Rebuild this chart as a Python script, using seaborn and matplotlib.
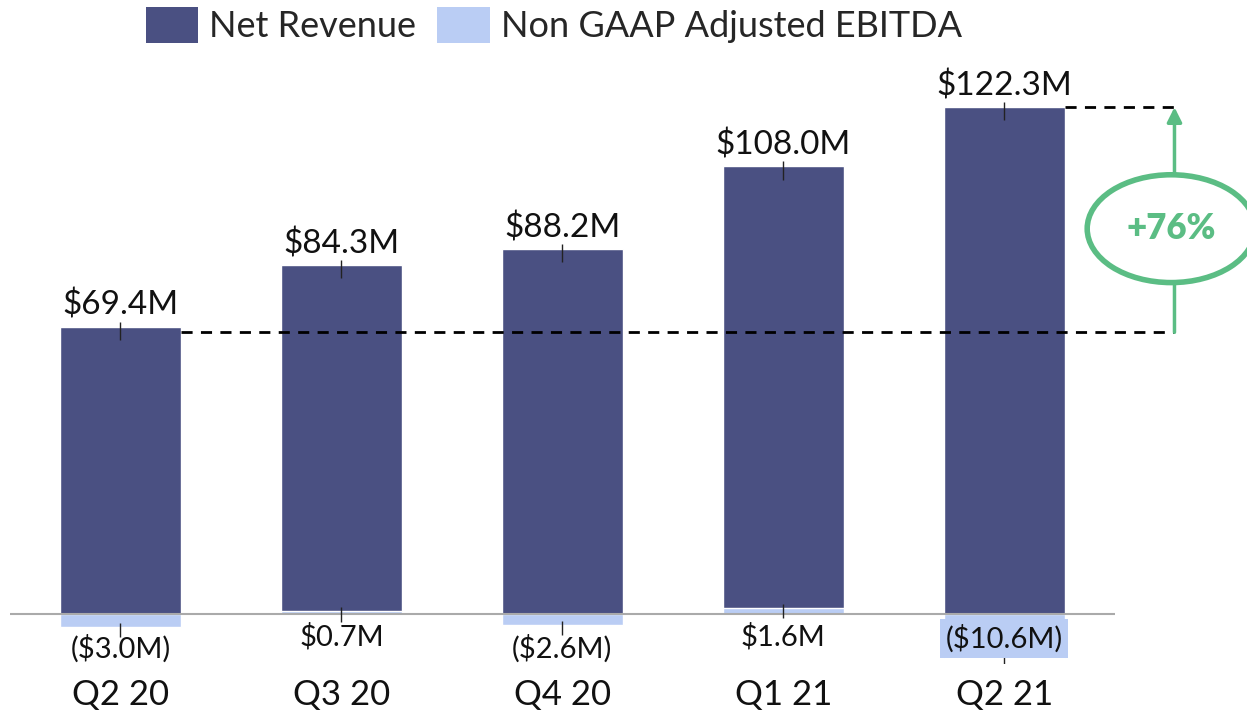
import matplotlib
matplotlib.use("Agg")
import matplotlib.pyplot as plt
from matplotlib.patches import Patch, Ellipse
import seaborn as sns
import pandas as pd

quarters = ["Q2 20", "Q3 20", "Q4 20", "Q1 21", "Q2 21"]
net_revenue = [69.4, 84.3, 88.2, 108.0, 122.3]
adj_ebitda = [-3.0, 0.7, -2.6, 1.6, -10.6]
growth_label = "+76%"

DARK = "#4a5082"
LIGHT = "#bacdf4"
GREEN = "#5bbd84"

sns.set_theme(style="white")
plt.rcParams["font.family"] = ["Lato", "DejaVu Sans"]

df = pd.DataFrame({"quarter": quarters, "revenue": net_revenue, "ebitda": adj_ebitda})

fig = plt.figure(figsize=(12.47, 7.11), dpi=100)
ax = fig.add_axes([0.008, 0.066, 0.886, 0.855])

sns.barplot(data=df, x="quarter", y="revenue", color=DARK, width=0.55,
            saturation=1, ax=ax, zorder=2)
sns.barplot(data=df, x="quarter", y="ebitda", color=LIGHT, width=0.55,
            saturation=1, ax=ax, zorder=3)

ax.set_xlim(-0.5, 4.5)
ax.set_ylim(-12, 134.6)
for s in ax.spines.values():
    s.set_visible(False)
ax.set_yticks([])
ax.set_xlabel("")
ax.set_ylabel("")
ax.axhline(0, color="#aaaaaa", lw=1.5, zorder=4)
ax.tick_params(axis="x", length=0, pad=11, labelsize=25, labelcolor="#111111")

xs = list(range(len(quarters)))
# small tick marks at bar ends
ax.errorbar(xs, net_revenue, yerr=[[3.2] * 5, [1.2] * 5], fmt="none",
            ecolor="#222222", elinewidth=1, zorder=5)
ax.errorbar(xs, adj_ebitda, yerr=[[2.5] * 5, [1.0] * 5], fmt="none",
            ecolor="#222222", elinewidth=1, zorder=5)

for x, v in zip(xs, net_revenue):
    ax.annotate(f"${v:.1f}M", (x, v), xytext=(0, 4), textcoords="offset points",
                ha="center", va="bottom", fontsize=24, color="#111111")

for x, v in zip(xs, adj_ebitda):
    txt = f"${v:.1f}M" if v >= 0 else f"(${abs(v):.1f}M)"
    box = None
    if v < -8:
        y = -5.8
        box = dict(boxstyle="square,pad=0.18", facecolor=LIGHT, edgecolor="none")
    elif v < 0:
        y = -8.2
    else:
        y = -5.3
    ax.text(x, y, txt, ha="center", va="center", fontsize=21, color="#111111",
            zorder=6, bbox=box)

# reference dashed lines and growth arrow
xa = 4.77
ax.plot([0.275, xa], [net_revenue[0] - 1.4] * 2, ls=(0, (4, 3)), color="black", lw=2,
        clip_on=False, zorder=3)
ax.plot([4.275, xa], [net_revenue[-1]] * 2, ls=(0, (4, 3)), color="black", lw=2,
        clip_on=False, zorder=3)
ax.annotate("", xy=(xa, net_revenue[-1]), xytext=(xa, net_revenue[0] - 1.4),
            arrowprops=dict(arrowstyle="-|>", color=GREEN, lw=2.5, mutation_scale=22,
                            shrinkA=0, shrinkB=0),
            annotation_clip=False, zorder=4)
ell = Ellipse((4.755, 93), 0.76, 26, facecolor="white", edgecolor=GREEN, lw=4,
              clip_on=False, zorder=5)
ax.add_patch(ell)
ax.text(4.755, 93, growth_label, ha="center", va="center", fontsize=25,
        fontweight="heavy", color=GREEN, zorder=6)

handles = [Patch(facecolor=DARK, edgecolor="none", label="Net Revenue"),
           Patch(facecolor=LIGHT, edgecolor="none", label="Non GAAP Adjusted EBITDA")]
fig.legend(handles=handles, loc="upper center", bbox_to_anchor=(0.444, 1.01),
           ncol=2, frameon=False, fontsize=26, handlelength=1.45, handleheight=1.15,
           handletextpad=0.3, columnspacing=0.6, borderaxespad=0.0)

fig.savefig("out.png", dpi=100)
